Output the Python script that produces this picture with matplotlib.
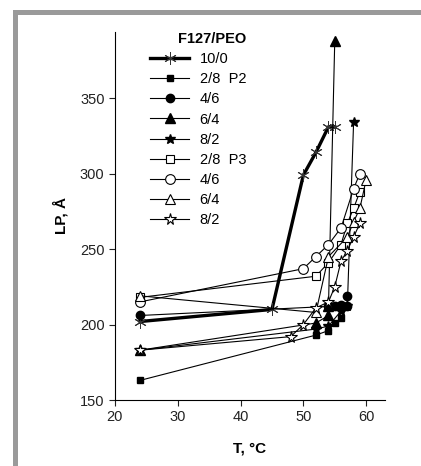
import matplotlib.pyplot as plt
from matplotlib.patches import Rectangle

plt.rcParams['font.family'] = ['Liberation Sans', 'DejaVu Sans']

# F127/PEO mesophase lattice parameter vs temperature
t_10_0 = [24, 45, 50, 52, 54, 55]
lp_10_0 = [202, 210, 299, 314, 331, 331]

# P2 series (filled markers)
t_p2_28 = [24, 52, 54, 55, 56, 57]
lp_p2_28 = [163, 193, 196, 201, 204, 212]
t_p2_46 = [24, 54, 55, 56, 57, 57]
lp_p2_46 = [206, 212, 212, 213, 212, 219]
t_p2_64 = [24, 52, 54, 54, 55]
lp_p2_64 = [183, 201, 206, 212, 388]
t_p2_82 = [24, 52, 54, 56, 57, 58]
lp_p2_82 = [183, 197, 199, 209, 212, 334]

# P3 series (open markers)
t_p3_28 = [24, 52, 54, 56, 57, 58, 59]
lp_p3_28 = [218, 232, 241, 253, 267, 277, 288]
t_p3_46 = [24, 50, 52, 54, 56, 58, 59]
lp_p3_46 = [215, 237, 245, 253, 264, 290, 300]
t_p3_64 = [24, 52, 54, 57, 58, 59, 60]
lp_p3_64 = [219, 208, 245, 258, 268, 277, 296]
t_p3_82 = [24, 48, 50, 52, 54, 55, 56, 57, 58, 59]
lp_p3_82 = [183, 192, 200, 211, 215, 225, 242, 249, 258, 267]

fig = plt.figure(figsize=(4.21, 4.66), dpi=100)
ax = fig.add_axes([0.273, 0.1416, 0.6415, 0.7904])

asterisk = (6, 2, 0)
ax.plot(t_10_0, lp_10_0, color='black', lw=2.4, marker=asterisk, ms=9,
        mew=0.7, mec='#333333', label='10/0', zorder=3)

filled = dict(color='black', lw=0.8, mfc='black', mec='black', zorder=4)
ax.plot(t_p2_28, lp_p2_28, marker='s', ms=5, label='2/8  P2', **filled)
ax.plot(t_p2_46, lp_p2_46, marker='o', ms=6, label='4/6', **filled)
ax.plot(t_p2_64, lp_p2_64, marker='^', ms=6.5, label='6/4', **filled)
ax.plot(t_p2_82, lp_p2_82, marker='*', ms=7.5, label='8/2', **filled)

hollow = dict(color='black', lw=0.8, mfc='white', mec='black', mew=0.8, zorder=5)
ax.plot(t_p3_28, lp_p3_28, marker='s', ms=6, label='2/8  P3', **hollow)
ax.plot(t_p3_46, lp_p3_46, marker='o', ms=7, label='4/6', **hollow)
ax.plot(t_p3_64, lp_p3_64, marker='^', ms=7.5, label='6/4', **hollow)
ax.plot(t_p3_82, lp_p3_82, marker='*', ms=8.5, label='8/2', **hollow)

ax.set_xlim(20, 63)
ax.set_ylim(150, 394)
ax.set_xticks([20, 30, 40, 50, 60])
ax.set_yticks([150, 200, 250, 300, 350])
ax.spines['top'].set_visible(False)
ax.spines['right'].set_visible(False)
ax.tick_params(direction='out', length=4, width=0.8, labelsize=10.5, colors='#222222')
ax.set_xlabel('T, °C', fontsize=11, fontweight='bold', labelpad=12)
ax.set_ylabel('LP, Å', fontsize=11, fontweight='bold', labelpad=8)

leg = ax.legend(loc='upper left', bbox_to_anchor=(150 / 421, 1 - 32 / 466),
                bbox_transform=fig.transFigure, frameon=False, fontsize=10.5,
                title='F127/PEO', title_fontproperties={'weight': 'bold', 'size': 10.5},
                alignment='right', handlelength=2.7, handletextpad=0.7,
                labelspacing=0.42, borderpad=0, borderaxespad=0)

# grey frame along the left and top edges
fig.add_artist(Rectangle((15.5 / 421, -0.1), 1.2, 1.1 - 12.5 / 466,
                         transform=fig.transFigure, fill=False,
                         edgecolor='#9a9a9a', lw=3.6))

fig.savefig('out.png', dpi=100)
